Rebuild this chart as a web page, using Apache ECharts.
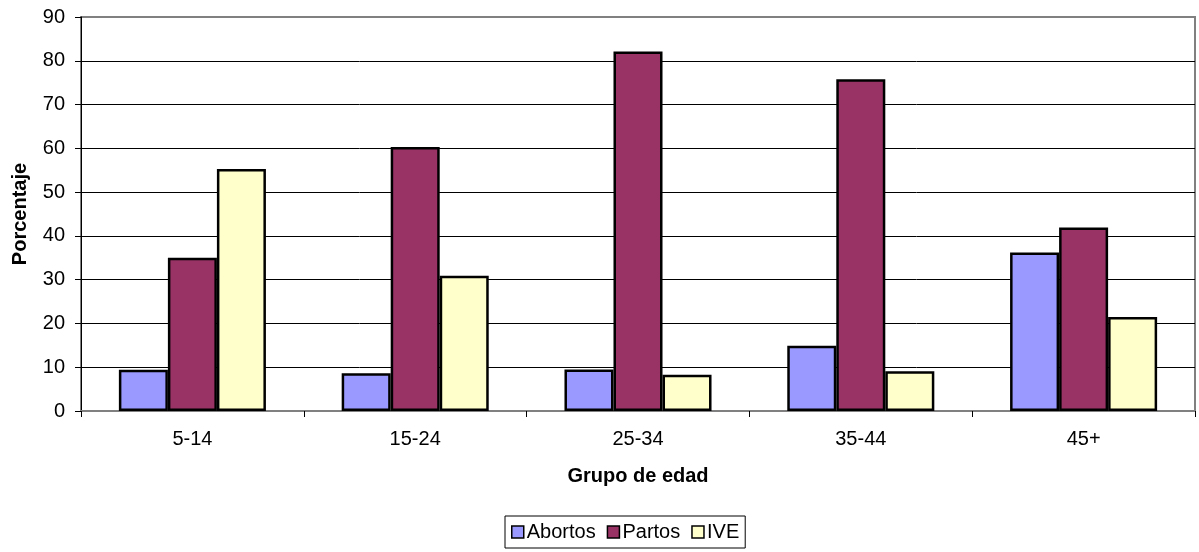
<!DOCTYPE html>
<html>
<head>
<meta charset="utf-8">
<script src="https://cdn.jsdelivr.net/npm/echarts@6/dist/echarts.min.js"></script>
<style>
  html, body { margin: 0; padding: 0; background: #fff; }
  #main { width: 1199px; height: 552px; }
</style>
</head>
<body>
<div id="main"></div>
<script>
// grupos de edad
var grupos = ['5-14', '15-24', '25-34', '35-44', '45+'];
// porcentajes por serie
var abortos = [9.4, 8.6, 9.5, 14.9, 36.2];
var partos = [35.0, 60.3, 82.1, 75.8, 41.9];
var ive = [55.3, 30.9, 8.3, 9.1, 21.5];

var myChart = echarts.init(document.getElementById('main'));

// lineas de la cuadricula: la de 90 va en gris como el borde
var gridColors = ['#000', '#000', '#000', '#000', '#000', '#000', '#000', '#000', '#000', '#808080'];

function serie(nombre, datos, color) {
  return {
    name: nombre,
    type: 'bar',
    data: datos,
    barGap: 0,
    barCategoryGap: '34%',
    itemStyle: { color: color, borderColor: '#000', borderWidth: 2.5 }
  };
}

var option = {
  animation: false,
  backgroundColor: '#fff',
  textStyle: { fontFamily: 'Liberation Sans, Arial, sans-serif' },
  grid: {
    left: 81, right: 4, top: 17, bottom: 141,
    show: true,
    borderColor: '#808080',
    borderWidth: 2
  },
  legend: {
    data: ['Abortos', 'Partos', 'IVE'],
    left: 505,
    top: 516,
    icon: 'rect',
    itemWidth: 12,
    itemHeight: 12,
    itemGap: 11,
    padding: [6, 6, 6, 6],
    borderColor: '#000',
    borderWidth: 1,
    borderRadius: 0,
    itemStyle: { borderColor: '#000', borderWidth: 1.5 },
    textStyle: { fontSize: 20, color: '#000', padding: [0, 0, 0, -2] }
  },
  xAxis: {
    type: 'category',
    data: grupos,
    name: 'Grupo de edad',
    nameLocation: 'middle',
    nameGap: 55,
    nameTextStyle: { fontSize: 20, fontWeight: 'bold', color: '#000' },
    axisLine: { lineStyle: { color: '#808080', width: 2 } },
    axisTick: { show: true, alignWithLabel: false, length: 6, lineStyle: { color: '#000' } },
    axisLabel: { fontSize: 20, color: '#000', margin: 18 }
  },
  yAxis: {
    type: 'value',
    min: 0,
    max: 90,
    interval: 10,
    name: 'Porcentaje',
    nameLocation: 'middle',
    nameGap: 51,
    nameTextStyle: { fontSize: 20, fontWeight: 'bold', color: '#000' },
    axisLine: { show: true, lineStyle: { color: '#000', width: 1 } },
    axisTick: { show: true, length: 6, lineStyle: { color: '#000' } },
    axisLabel: { fontSize: 20, color: '#000', margin: 16 },
    splitLine: { show: true, lineStyle: { color: gridColors, width: 1 } }
  },
  series: [
    serie('Abortos', abortos, '#9999FF'),
    serie('Partos', partos, '#993366'),
    serie('IVE', ive, '#FFFFCC')
  ]
};

myChart.setOption(option);
</script>
</body>
</html>
